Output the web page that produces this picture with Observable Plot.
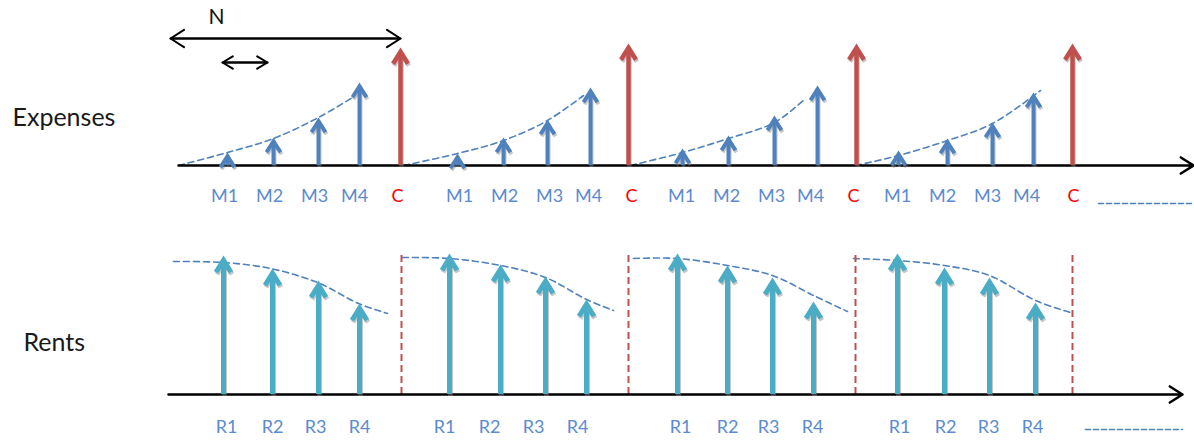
<!DOCTYPE html>
<html>
<head>
<meta charset="utf-8">
<script src="https://cdn.jsdelivr.net/npm/d3@7"></script>
<script src="https://cdn.jsdelivr.net/npm/@observablehq/plot@0.6"></script>
<style>
  html, body { margin: 0; padding: 0; background: #fff; }
  #chart svg { display: block; }
</style>
</head>
<body>
<div id="chart"></div>
<script>
// ---------- data (positions along the time axis, heights above the baseline) ----------
const cycles = [1, 2, 3, 4];

const expenseLabels = ["M1", "M2", "M3", "M4", "C"];
const expenseX = [
  [227, 273, 318, 359, 400],
  [457, 503, 547, 590, 628],
  [682, 728, 774, 817, 856],
  [898, 947, 992, 1033, 1072]
];
const expenseH = [
  [13, 28, 48, 83, 118],
  [12, 28, 46, 78, 122],
  [17, 30, 50, 80, 122],
  [15, 27, 43, 73, 122]
];
const expenseLabelX = [
  [224, 269, 314, 354, 397],
  [459, 504, 549, 588, 631],
  [681, 726, 771, 810, 853],
  [897, 942, 987, 1026, 1073]
];

const expenseTrendX = [
  [178, 227, 273, 318, 352],
  [403, 457, 503, 547, 583],
  [630, 682, 728, 774, 805],
  [855, 898, 947, 992, 1040]
];
const expenseTrendH = [
  [0, 13, 27, 48, 68],
  [0, 12, 25, 45, 70],
  [0, 13, 27, 43, 67],
  [0, 10, 25, 42, 75]
];

const rentLabels = ["R1", "R2", "R3", "R4"];
const rentX = [
  [223, 272, 318, 359],
  [449, 500, 545, 586],
  [677, 727, 772, 813],
  [897, 944, 989, 1035]
];
const rentH = [
  [139, 126, 114, 91],
  [141, 130, 118, 95],
  [141, 129, 117, 93],
  [141, 127, 117, 92]
];
const rentLabelX = [
  [226, 272, 315, 359],
  [444, 489, 533, 577],
  [680, 727, 768, 812],
  [899, 945, 988, 1032]
];

const rentTrendX = [
  [173, 223, 270, 317, 358, 387],
  [402, 449, 500, 545, 586, 613],
  [633, 677, 727, 772, 813, 847],
  [853, 897, 944, 989, 1035, 1070]
];
const rentTrendH = [
  [133, 132, 126, 112, 91, 81],
  [137, 136, 129, 117, 95, 84],
  [136, 136, 129, 119, 99, 83],
  [136, 134, 129, 119, 94, 82]
];

const cycleEndX = [401, 628, 855, 1072];
const cycleEndH = 139;

const expenseAxisX = [178, 1193];
const rentAxisX = [168, 1182];
const continueTopX = [1098, 1193];
const continueTopH = -38;
const continueBottomX = [1085, 1182];
const continueBottomH = -35;

const periodSpanX = [170, 400];   // "N"
const periodSpanH = 127;
const stepSpanX = [222, 267];
const stepSpanH = 103;
const periodLabel = "N";
const periodLabelX = 216;
const periodLabelH = 148;

const rowTitles = ["Expenses", "Rents"];

// ---------- styles ----------
const BLUE = "#4f81bd";
const RED = "#c0504d";
const TEAL = "#4bacc6";
const LABEL_BLUE = "#5b8bd0";
const LABEL_RED = "#ff0000";
const FONT = "Lato, 'Open Sans', 'DejaVu Sans', sans-serif";

// ---------- tables built from the arrays ----------
const expenseRows = cycles.flatMap((c, i) => expenseLabels.map((lab, j) => ({
  cycle: c, label: lab, kind: lab === "C" ? "C" : "M",
  x: expenseX[i][j], h: expenseH[i][j], lx: expenseLabelX[i][j]
})));
const expenseTrend = cycles.flatMap((c, i) => expenseTrendX[i].map((x, j) => ({cycle: c, x, h: expenseTrendH[i][j]})));
const rentRows = cycles.flatMap((c, i) => rentLabels.map((lab, j) => ({
  cycle: c, label: lab, x: rentX[i][j], h: rentH[i][j], lx: rentLabelX[i][j]
})));
const rentTrend = cycles.flatMap((c, i) => rentTrendX[i].map((x, j) => ({cycle: c, x, h: rentTrendH[i][j]})));
const cycleEnds = cycleEndX.map(x => ({x, h: cycleEndH}));

// open chevron arrow-head symbol, tip at the origin
function chevron(halfW, len, sw) {
  const half = Math.atan2(halfW, len);
  const off = (sw / 2) / Math.sin(half);
  return {
    draw(ctx) {
      ctx.moveTo(-halfW, off + len);
      ctx.lineTo(0, off);
      ctx.lineTo(halfW, off + len);
    }
  };
}

function arrowMarks(data, {color, sw, halfW, len, filter}) {
  const sym = chevron(halfW, len, sw);
  const stemTop = d => d.h - (sw / 2) / Math.sin(Math.atan2(halfW, len)) - 1;
  const common = filter ? {filter} : {};
  return [
    Plot.ruleX(data, {...common, x: "x", y1: 0, y2: stemTop, stroke: "#808080", strokeOpacity: 0.45, strokeWidth: sw, dx: 1, dy: 2}),
    Plot.dot(data, {...common, x: "x", y: "h", symbol: sym, r: 5, fill: "none", stroke: "#808080", strokeOpacity: 0.45, strokeWidth: sw, strokeLinejoin: "miter", dx: 1, dy: 2}),
    Plot.ruleX(data, {...common, x: "x", y1: 0, y2: stemTop, stroke: color, strokeWidth: sw}),
    Plot.dot(data, {...common, x: "x", y: "h", symbol: sym, r: 5, fill: "none", stroke: color, strokeWidth: sw, strokeLinejoin: "miter"})
  ];
}

function panel(height, baseline, marks) {
  return Plot.plot({
    width: 1194,
    height,
    margin: 0,
    x: {domain: [0, 1194], range: [0, 1194], axis: null},
    y: {domain: [0, baseline], range: [baseline, 0], axis: null},
    style: {fontFamily: FONT, background: "#fff", overflow: "visible"},
    marks
  });
}

// ---------- top panel: Expenses ----------
const TOP_H = 215, TOP_BASE = 165;
const expensePanel = panel(TOP_H, TOP_BASE, [
  Plot.line(expenseTrend, {x: "x", y: "h", z: "cycle", curve: "catmull-rom", stroke: BLUE, strokeWidth: 1.6, strokeDasharray: "6,4"}),
  Plot.arrow([0], {x1: expenseAxisX[0], x2: expenseAxisX[1], y1: 0, y2: 0, stroke: "black", strokeWidth: 2.5, headLength: 9, headAngle: 65}),
  ...arrowMarks(expenseRows, {color: BLUE, sw: 4, halfW: 7, len: 11, filter: d => d.kind === "M"}),
  ...arrowMarks(expenseRows, {color: RED, sw: 4.5, halfW: 7.5, len: 12, filter: d => d.kind === "C"}),
  Plot.text(expenseRows, {x: "lx", y: -31, text: "label", fontSize: 18, fill: d => d.kind === "C" ? LABEL_RED : LABEL_BLUE}),
  Plot.line(continueTopX, {x: d => d, y: continueTopH, stroke: BLUE, strokeWidth: 1.6, strokeDasharray: "5,3"}),
  // N spans (double-headed)
  Plot.arrow([0], {x1: periodSpanX[0], x2: periodSpanX[1], y1: periodSpanH, y2: periodSpanH, stroke: "black", strokeWidth: 2, headLength: 12, headAngle: 65}),
  Plot.arrow([0], {x1: periodSpanX[1], x2: periodSpanX[0], y1: periodSpanH, y2: periodSpanH, stroke: "black", strokeWidth: 2, headLength: 12, headAngle: 65}),
  Plot.arrow([0], {x1: stepSpanX[0], x2: stepSpanX[1], y1: stepSpanH, y2: stepSpanH, stroke: "black", strokeWidth: 2, headLength: 9, headAngle: 62}),
  Plot.arrow([0], {x1: stepSpanX[1], x2: stepSpanX[0], y1: stepSpanH, y2: stepSpanH, stroke: "black", strokeWidth: 2, headLength: 9, headAngle: 62}),
  Plot.text([periodLabel], {x: periodLabelX, y: periodLabelH, text: d => d, fontSize: 21, fill: "#111"}),
  Plot.text([rowTitles[0]], {x: 12, y: 47.5, text: d => d, textAnchor: "start", fontSize: 25, fill: "#1a1a1a"})
]);

// ---------- bottom panel: Rents ----------
const BOT_H = 226, BOT_BASE = 179;
const rentPanel = panel(BOT_H, BOT_BASE, [
  Plot.line(rentTrend, {x: "x", y: "h", z: "cycle", curve: "catmull-rom", stroke: BLUE, strokeWidth: 1.6, strokeDasharray: "6,4"}),
  Plot.ruleX(cycleEnds, {x: "x", y1: 0, y2: "h", stroke: RED, strokeWidth: 2, strokeDasharray: "7,4"}),
  Plot.arrow([0], {x1: rentAxisX[0], x2: rentAxisX[1], y1: 0, y2: 0, stroke: "black", strokeWidth: 2.5, headLength: 9, headAngle: 65}),
  ...arrowMarks(rentRows, {color: TEAL, sw: 5, halfW: 7.5, len: 12}),
  Plot.text(rentRows, {x: "lx", y: -32.5, text: "label", fontSize: 18, fill: LABEL_BLUE}),
  Plot.line(continueBottomX, {x: d => d, y: continueBottomH, stroke: BLUE, strokeWidth: 1.6, strokeDasharray: "5,3"}),
  Plot.text([rowTitles[1]], {x: 23, y: 51.5, text: d => d, textAnchor: "start", fontSize: 25, fill: "#1a1a1a"})
]);

document.getElementById("chart").append(expensePanel, rentPanel);
</script>
</body>
</html>
